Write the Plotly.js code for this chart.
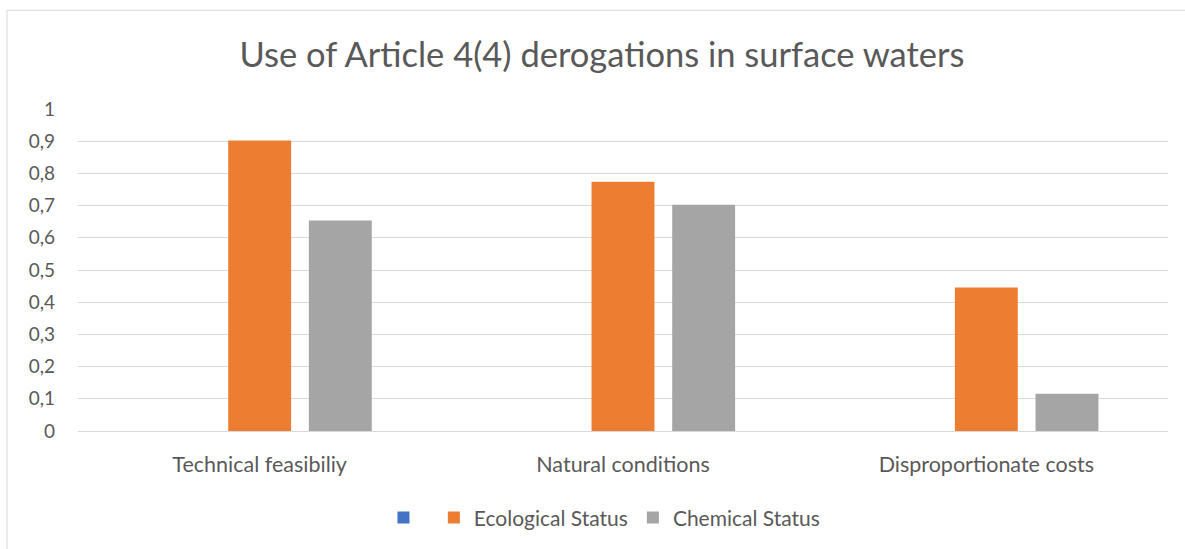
<!DOCTYPE html>
<html>
<head>
<meta charset="utf-8">
<script src="https://cdn.plot.ly/plotly-3.0.1.min.js"></script>
<style>
  html, body { margin: 0; padding: 0; background: #ffffff; }
  #chart { width: 1185px; height: 549px; }
</style>
</head>
<body>
<div id="chart"></div>
<script>
const categories = ["Technical feasibiliy", "Natural conditions", "Disproportionate costs"];
const blankSeries = [0, 0, 0];
const ecologicalStatus = [0.902, 0.774, 0.446];
const chemicalStatus = [0.654, 0.703, 0.116];
const seriesNames = [" ", "Ecological Status", "Chemical Status"];
const yTicks = [0, 0.1, 0.2, 0.3, 0.4, 0.5, 0.6, 0.7, 0.8, 0.9, 1];

const FONT = "Lato, 'Open Sans', sans-serif";
const TXT = "#595959";

const traces = [
  { type: "bar", x: categories, y: blankSeries, name: seriesNames[0], marker: { color: "#4472C4" } },
  { type: "bar", x: categories, y: ecologicalStatus, name: seriesNames[1], marker: { color: "#ED7D31" } },
  { type: "bar", x: categories, y: chemicalStatus, name: seriesNames[2], marker: { color: "#A5A5A5" } }
];

const layout = {
  width: 1185,
  height: 549,
  margin: { l: 78, r: 17, t: 109, b: 117 },
  paper_bgcolor: "#ffffff",
  plot_bgcolor: "#ffffff",
  separators: ", ",
  font: { family: FONT, color: TXT, size: 19 },
  title: {
    text: "Use of Article 4(4) derogations in surface waters",
    font: { family: FONT, size: 34.5, color: TXT },
    x: 0.508, xanchor: "center",
    y: 0.9, yref: "container", yanchor: "middle"
  },
  barmode: "group",
  bargap: 0.334,
  bargroupgap: 0.22,
  showlegend: true,
  legend: {
    orientation: "h",
    x: 0.483, xanchor: "center",
    y: -0.266, yanchor: "middle",
    font: { family: FONT, size: 21, color: TXT },
    traceorder: "normal"
  },
  xaxis: {
    type: "category",
    showgrid: false,
    showline: true,
    linecolor: "#d9d9d9",
    linewidth: 1,
    ticks: "",
    ticklabelstandoff: 14,
    tickfont: { family: FONT, size: 21.5, color: TXT },
    fixedrange: true
  },
  yaxis: {
    range: [0, 1],
    tickvals: yTicks,
    showgrid: true,
    gridcolor: "#d9d9d9",
    gridwidth: 1,
    zeroline: false,
    showline: false,
    ticks: "",
    ticklabelstandoff: 22,
    tickfont: { family: FONT, size: 19, color: TXT },
    fixedrange: true
  },
  shapes: [
    { type: "rect", xref: "paper", yref: "paper",
      x0: (7 - 78) / 1090, x1: (1200 - 78) / 1090,
      y0: (432 - 560) / 323, y1: (432 - 10) / 323,
      line: { color: "#d9d9d9", width: 1 }, fillcolor: "rgba(0,0,0,0)", layer: "below" }
  ]
};

Plotly.newPlot("chart", traces, layout, { displayModeBar: false, staticPlot: true });
</script>
</body>
</html>
